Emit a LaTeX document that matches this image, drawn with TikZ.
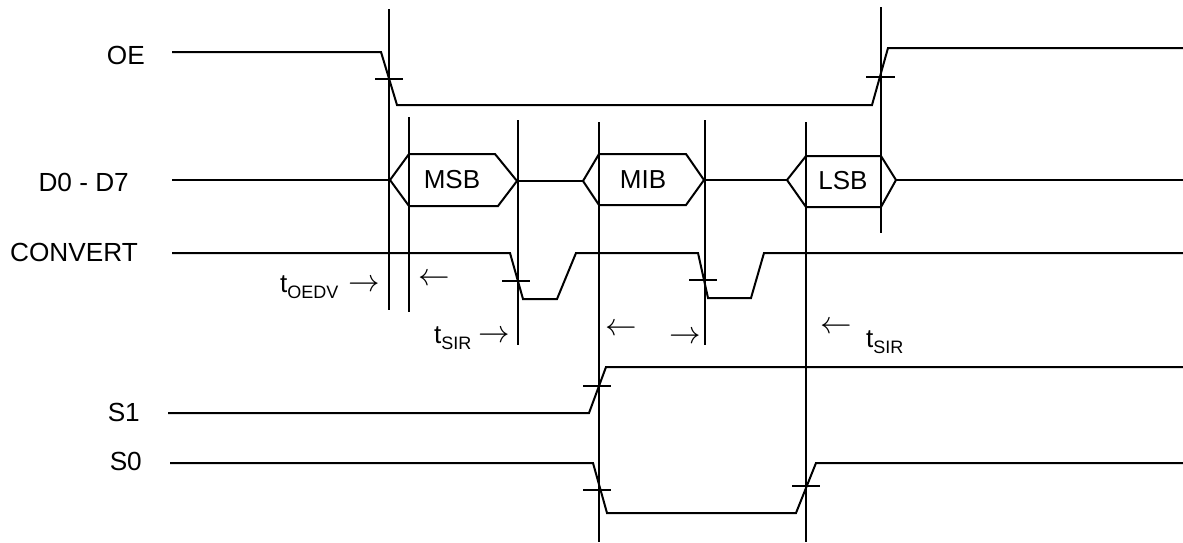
\RequirePackage{fix-cm}
\documentclass[tikz,border=0pt]{standalone}
\usepackage{fontspec}
\setmainfont{Liberation Sans}

\newcommand{\tlab}[1]{t\raisebox{-6pt}{\fontsize{18}{18}\selectfont #1}}

\begin{document}
\begin{tikzpicture}[x=1pt, y=-1pt,
	sigline/.style={line width=2pt},
	markline/.style={line width=2pt},
	edgetick/.style={line width=2pt},
	signame/.style={anchor=east, inner sep=0pt, font=\fontsize{26.2}{30}\selectfont},
	bytename/.style={inner sep=0pt, font=\fontsize{26}{30}\selectfont},
	timelab/.style={anchor=base west, inner sep=0pt, font=\fontsize{26}{30}\selectfont},
	arrowlab/.style={anchor=base, inner sep=0pt, font=\fontsize{31.5}{34}\selectfont},
	]
	\useasboundingbox (0,0) rectangle (1183,542);
	
	%Signal names
	\node[signame] (oe)   at (145,55)  {OE};
	\node[signame] (data) at (129,182) {D0 - D7};
	\node[signame] (conv) at (138,252) {CONVERT};
	\node[signame] (sone) at (140,412) {S1};
	\node[signame] (szero) at (142,461) {S0};
	
	%Markers
	\draw[markline] (389,9) -- (389,310);
	\draw[markline] (409,117) -- (409,312);
	\draw[markline] (518,120) -- (518,345);
	\draw[markline] (599,122) -- (599,542);
	\draw[markline] (705,120) -- (705,345);
	\draw[markline] (806,122) -- (806,542);
	\draw[markline] (881,7) -- (881,233);
	
	%OE
	\draw[sigline] (172,52) -- (381,52) -- (397,105) -- (872,105) -- (888,48) -- (1183,48);
	\draw[edgetick] (375,79) -- (403,79);
	\draw[edgetick] (866,77) -- (895,77);
	
	%D0 - D7
	\draw[sigline] (172,180) -- (390,180);
	\draw[sigline] (390,180) -- (409,154) -- (495,154) -- (517,181) -- (498,206) -- (409,206) -- cycle;
	\node[bytename] (msb) at (452,180) {MSB};
	\draw[sigline] (517,181) -- (583,181);
	\draw[sigline] (583,181) -- (599,154) -- (686,154) -- (704,180) -- (686,205) -- (599,205) -- cycle;
	\node[bytename] (mib) at (643,180) {MIB};
	\draw[sigline] (704,180) -- (787,180);
	\draw[sigline] (787,180) -- (806,156) -- (881,156) -- (896,180) -- (881,207) -- (806,207) -- cycle;
	\node[bytename] (lsb) at (843,181) {LSB};
	\draw[sigline] (896,180) -- (1183,180);
	
	%CONVERT
	\draw[sigline] (172,253) -- (510,253) -- (523,299) -- (557,299) -- (576,253) -- (698,253) -- (708,298) -- (751,298) -- (764,253) -- (1183,253);
	\draw[edgetick] (502,281) -- (530,281);
	\draw[edgetick] (689,280) -- (717,280);
	
	%S1
	\draw[sigline] (168,413) -- (589,413) -- (606,367) -- (1183,367);
	\draw[edgetick] (583,386) -- (611,386);
	
	%S0
	\draw[sigline] (170,463) -- (593,463) -- (607,513) -- (796,513) -- (816,463) -- (1183,463);
	\draw[edgetick] (583,490) -- (611,490);
	\draw[edgetick] (792,486) -- (820,486);
	
	%Timing labels
	\node[timelab] (toedv) at (280,292) {\tlab{OEDV}};
	\node[arrowlab] (aoedvr) at (364,291) {$\rightarrow$};
	\node[arrowlab] (aoedvl) at (434,285) {$\leftarrow$};
	\node[timelab] (tsirl) at (434,343) {\tlab{SIR}};
	\node[arrowlab] (asirr) at (494,342) {$\rightarrow$};
	\node[arrowlab] (amibl) at (621,335) {$\leftarrow$};
	\node[arrowlab] (amibr) at (685,343) {$\rightarrow$};
	\node[arrowlab] (asirl) at (836,333) {$\leftarrow$};
	\node[timelab] (tsirr) at (866,347) {\tlab{SIR}};
\end{tikzpicture}
\end{document}
